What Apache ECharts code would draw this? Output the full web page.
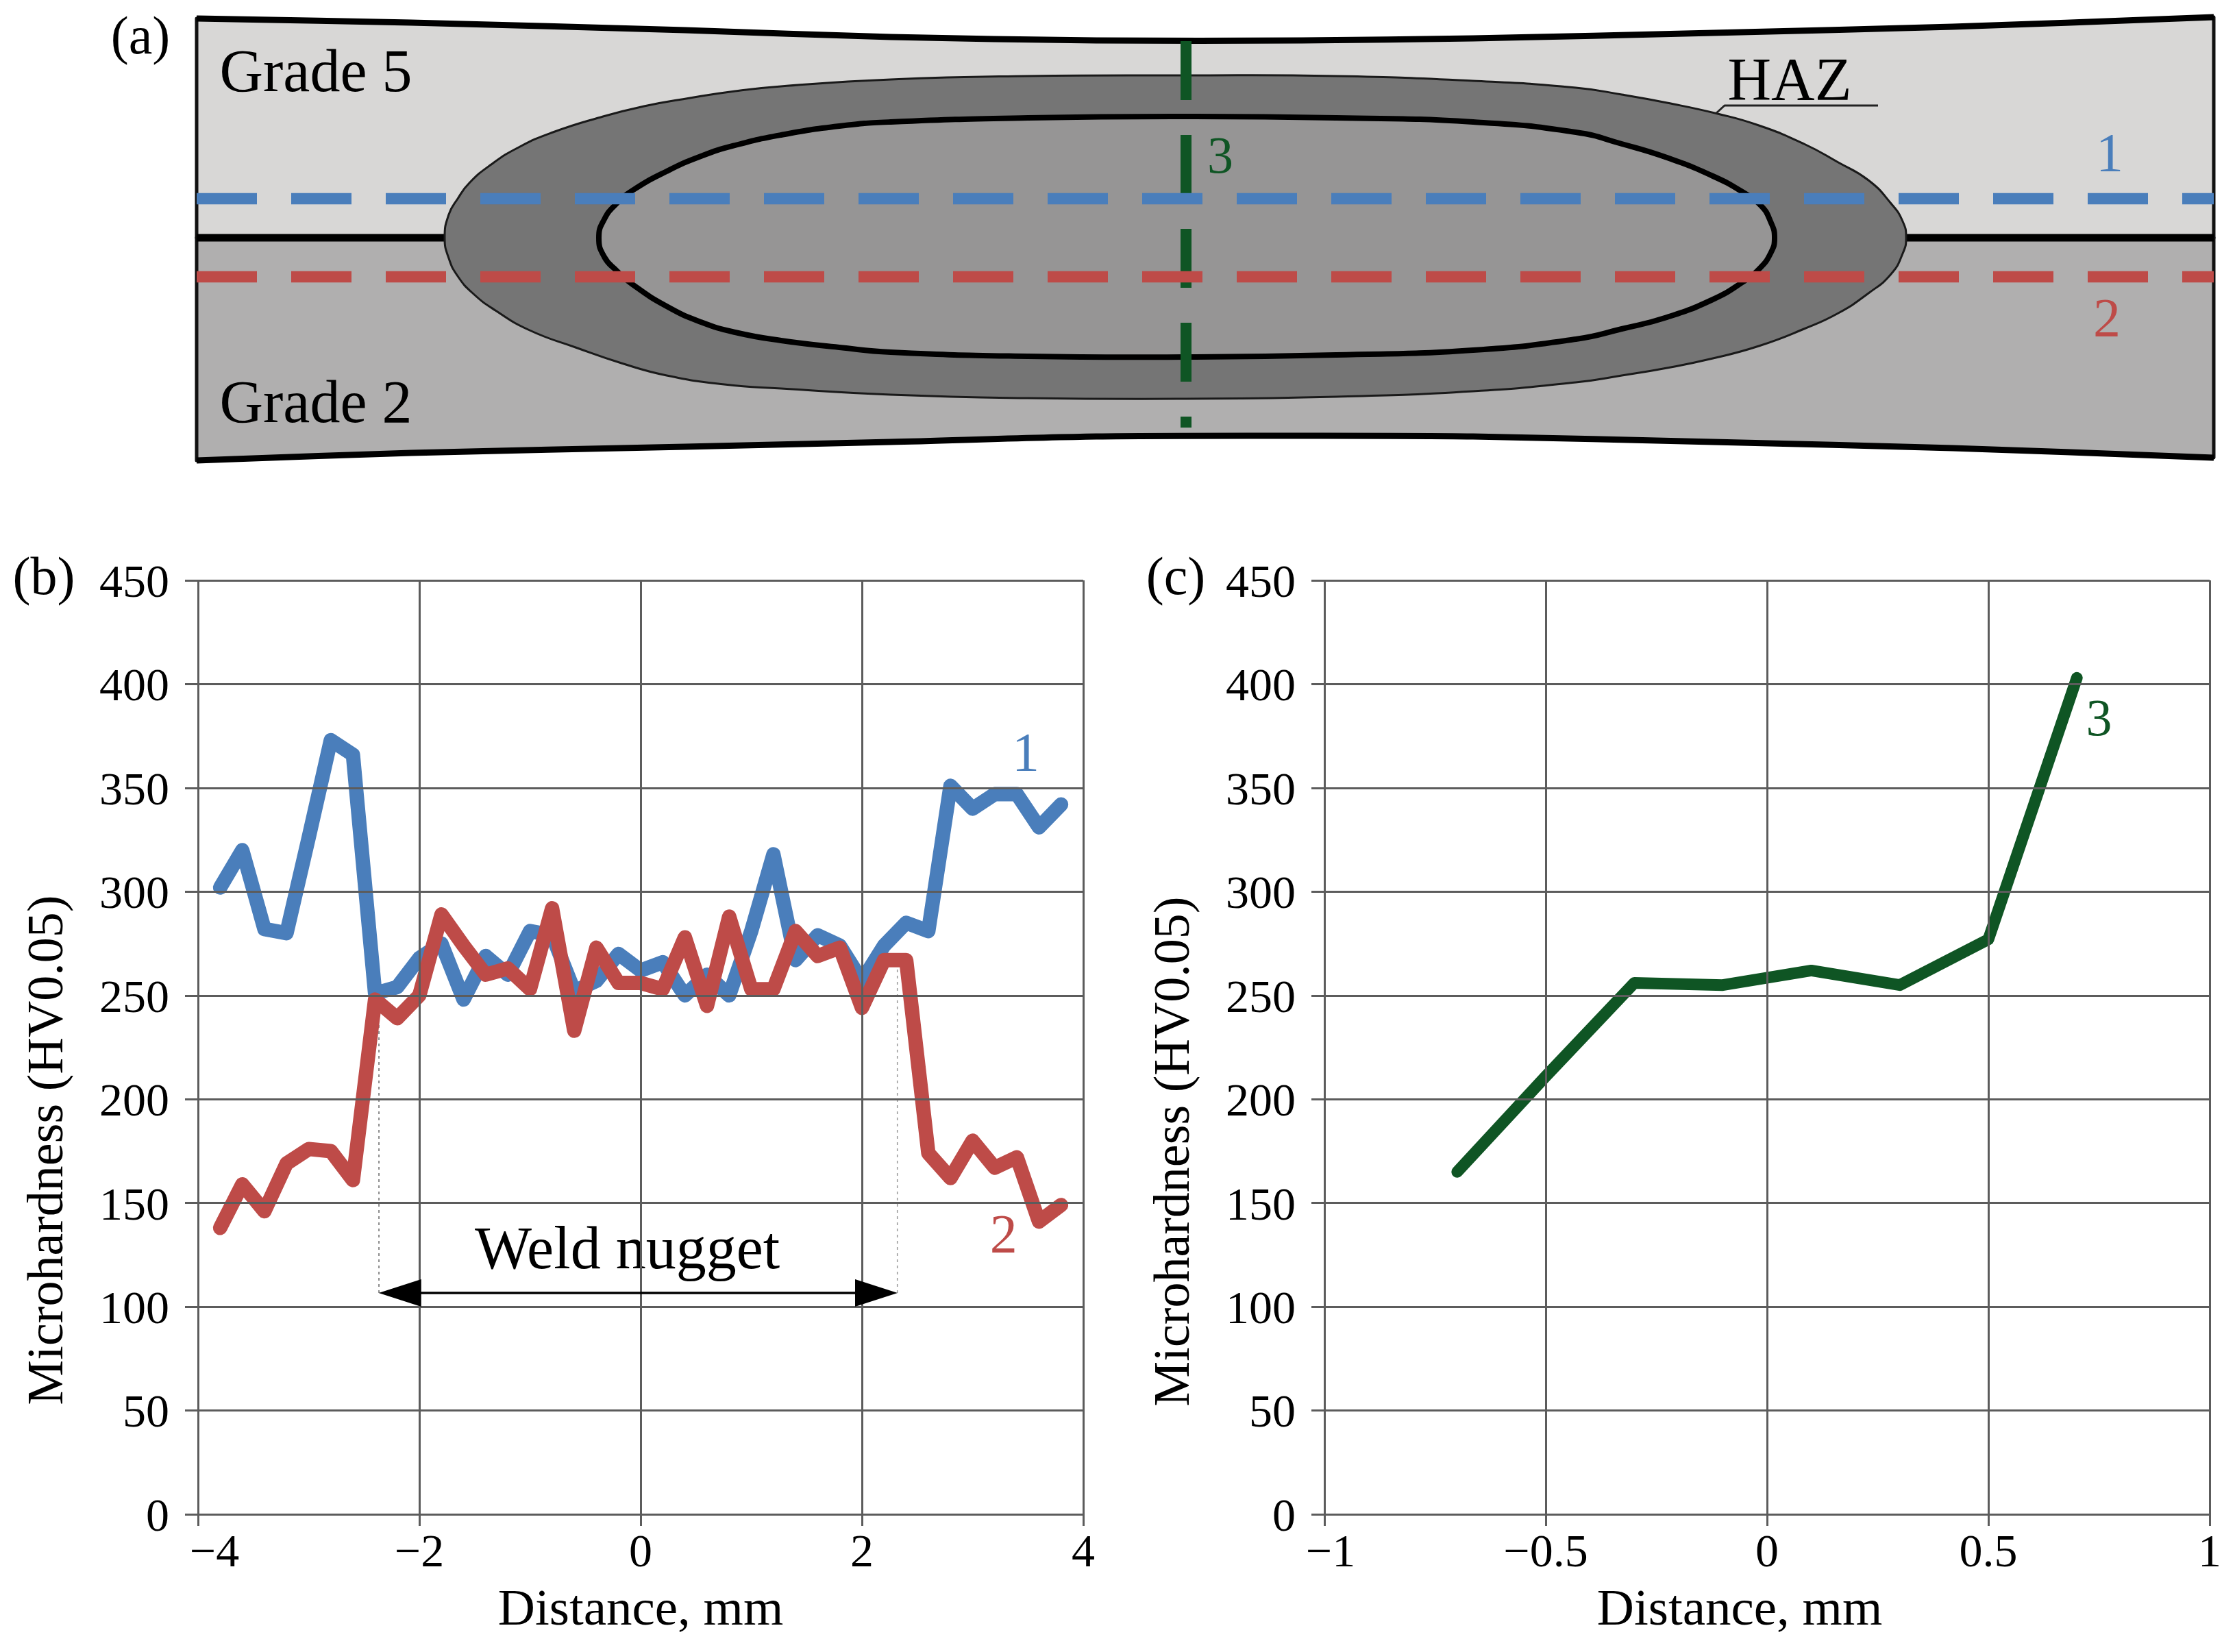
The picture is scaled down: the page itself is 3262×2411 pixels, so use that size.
<!DOCTYPE html>
<html>
<head>
<meta charset="utf-8">
<style>html,body{margin:0;background:#fff}#chart{width:3262px;height:2411px}</style>
<script src="https://cdn.jsdelivr.net/npm/echarts@6/dist/echarts.min.js"></script>
</head>
<body>
<div id="chart"></div>
<script>
const FONT = 'Liberation Serif'
const INK = '#000'
const BLUE = '#4a7ebb'
const RED = '#be4b48'
const GREEN = '#0f5524'
const GRID_COLOR = '#5c5c5c'

// panels (b) and (c)
const yTicks = [0, 50, 100, 150, 200, 250, 300, 350, 400, 450]
const xTicksB = [-4, -2, 0, 2, 4]
const xTicksC = [-1, -0.5, 0, 0.5, 1]
const distB = [-3.8, -3.6, -3.4, -3.2, -3.0, -2.8, -2.6, -2.4, -2.2, -2.0, -1.8, -1.6, -1.4, -1.2, -1.0, -0.8, -0.6, -0.4, -0.2, 0,
  0.2, 0.4, 0.6, 0.8, 1.0, 1.2, 1.4, 1.6, 1.8, 2.0, 2.2, 2.4, 2.6, 2.8, 3.0, 3.2, 3.4, 3.6, 3.8]
const hardness1 = [302, 320, 282, 280, 326, 373, 366, 251, 254, 268, 275, 248, 269, 260, 281, 279, 252, 257, 270, 262,
  266, 250, 260, 250, 281, 318, 267, 279, 274, 257, 274, 285, 281, 351, 340, 347, 347, 331, 342]
const hardness2 = [138, 159, 146, 169, 176, 175, 161, 248, 239, 250, 289, 274, 260, 263, 253, 292, 233, 273, 256, 256,
  253, 278, 245, 288, 253, 253, 281, 269, 273, 244, 267, 267, 174, 162, 180, 167, 172, 141, 149]
const distC = [-0.7, -0.5, -0.3, -0.1, 0.1, 0.3, 0.5, 0.7]
const hardness3 = [165, 211, 256, 255, 262, 255, 277, 403]

// weld nugget annotation, in mm / HV
const nuggetEnds = [-2.365, 2.32]
const arrowBase = [-2.175, 2.13]
const arrowY = 106.6
const nuggetTop = [248, 267]

// schematic (a), outlines in page pixels
const topEdge = [[287, 27], [600, 33], [1000, 44], [1300, 54], [1600, 59], [1900, 59], [2150, 56], [2500, 48], [2850, 39], [3231, 25]]
const bottomEdge = [[287, 672], [600, 661], [1000, 652], [1300, 645], [1600, 637], [1900, 636], [2150, 637], [2500, 645], [2850, 654], [3231, 668]]
const seam = [[287, 347], [3231, 347]]
const hazOutline = [[649, 347], [655, 313], [668, 290], [685, 267], [717, 240], [757, 215], [807, 193], [873, 172], [940, 155], [1007, 143], [1073, 133], [1140, 126],
  [1300, 116], [1500, 111], [1731, 110], [1950, 111], [2150, 118],
  [2300, 128], [2367, 138], [2433, 150], [2507, 166], [2567, 183], [2633, 210], [2683, 237], [2727, 263], [2760, 297], [2777, 323], [2782, 347],
  [2777, 370], [2760, 400], [2727, 428], [2683, 457], [2633, 480], [2567, 505], [2500, 523], [2433, 537], [2367, 548], [2300, 558],
  [2150, 571], [1950, 579], [1731, 582], [1500, 581], [1300, 576],
  [1140, 567], [1057, 561], [973, 548], [907, 530], [840, 507], [773, 482], [723, 453], [690, 428], [668, 403], [655, 377]]
const nuggetOutline = [[874, 347], [882, 320], [900, 297], [923, 278], [973, 250], [1023, 228], [1073, 212], [1140, 197], [1225, 184], [1300, 178],
  [1500, 172], [1731, 170], [1950, 172], [2150, 178],
  [2300, 193], [2367, 210], [2433, 230], [2500, 257], [2543, 280], [2570, 300], [2584, 323], [2590, 347],
  [2584, 370], [2567, 393], [2543, 412], [2500, 437], [2433, 463], [2367, 480], [2300, 495],
  [2150, 511], [1950, 518], [1731, 521], [1500, 520], [1300, 514],
  [1225, 507], [1140, 497], [1073, 485], [1023, 470], [973, 447], [923, 415], [900, 395], [882, 375]]
const hazLeader = [[2505, 165], [2517, 154], [2741, 154]]
const line1Path = [[287, 290], [3231, 290]]
const line2Path = [[287, 404], [3231, 404]]
const line3Path = [[1731, 60], [1731, 624]]

const shapes = [
  { kind: 'polygon', pts: topEdge.concat([[3231, 347], [287, 347]]), fill: '#d8d7d6', stroke: '#111', width: 5 },
  { kind: 'polygon', pts: bottomEdge.concat([[3231, 347], [287, 347]]), fill: '#b0afaf', stroke: '#111', width: 5 },
  { kind: 'polyline', pts: topEdge, stroke: '#000', width: 9, smooth: 0.3 },
  { kind: 'polyline', pts: bottomEdge, stroke: '#000', width: 9, smooth: 0.3 },
  { kind: 'polyline', pts: seam, stroke: '#000', width: 11 },
  { kind: 'polygon', pts: hazOutline, fill: '#757575', stroke: '#1a1a1a', width: 3, smooth: 0.5 },
  { kind: 'polygon', pts: nuggetOutline, fill: '#969595', stroke: '#000', width: 8, smooth: 0.5 },
  { kind: 'polyline', pts: hazLeader, stroke: '#222', width: 3 }
]

const pairs = (xs, ys) => xs.map((x, i) => [x, ys[i]])
const tickText = v => String(v).replace('-', '\u2212')

const renderShape = (params, api) => {
  const s = shapes[params.dataIndex]
  const points = s.pts.map(p => api.coord(p))
  return {
    type: s.kind,
    shape: { points, smooth: s.smooth || 0 },
    style: { fill: s.kind === 'polygon' ? s.fill : 'none', stroke: s.stroke, lineWidth: s.width, lineJoin: 'round' }
  }
}

const textSeries = (axisIndex, items) => ({
  type: 'scatter',
  xAxisIndex: axisIndex,
  yAxisIndex: axisIndex,
  symbolSize: 0,
  silent: true,
  z: 4,
  itemStyle: { opacity: 1 },
  data: items.map(t => ({
    name: t.text,
    value: [t.x, t.y],
    label: { show: true, position: 'inside', formatter: '{b}', fontFamily: FONT, fontSize: t.size, color: t.color }
  }))
})

const hardLine = (axisIndex, data, color, width) => ({
  type: 'line',
  xAxisIndex: axisIndex,
  yAxisIndex: axisIndex,
  data,
  showSymbol: false,
  silent: true,
  z: 2,
  lineStyle: { color, width, cap: 'round', join: 'round' }
})

const dashLine = (data, color, width, dash) => ({
  type: 'line',
  xAxisIndex: 0,
  yAxisIndex: 0,
  data,
  showSymbol: false,
  silent: true,
  z: 3,
  lineStyle: { color, width, type: dash, cap: 'butt' }
})

const guideLine = (x, top, color) => ({
  type: 'line',
  xAxisIndex: 1,
  yAxisIndex: 1,
  data: [[x, arrowY], [x, top]],
  showSymbol: false,
  silent: true,
  z: 1,
  lineStyle: { color, width: 1.5, type: [4, 5] }
})

const arrowHead = (x, rotate) => ({
  type: 'scatter',
  xAxisIndex: 1,
  yAxisIndex: 1,
  data: [[x, arrowY]],
  symbol: 'triangle',
  symbolSize: [40, 62],
  symbolRotate: rotate,
  silent: true,
  z: 6,
  itemStyle: { color: '#000', opacity: 1 }
})

const xAxisFor = (gridIndex, ticks, interval, namePad, minPad) => ({
  gridIndex,
  type: 'value',
  min: ticks[0],
  max: ticks[ticks.length - 1],
  interval,
  z: 5,
  name: 'Distance, mm',
  nameLocation: 'middle',
  nameGap: 104,
  nameTextStyle: { fontFamily: FONT, fontSize: 75, color: INK, padding: [0, namePad, 0, 0] },
  axisLine: { show: false, onZero: false },
  axisTick: { show: true, length: 17, lineStyle: { color: GRID_COLOR, width: 3 } },
  axisLabel: {
    fontFamily: FONT,
    fontSize: 68,
    color: INK,
    margin: 24,
    showMinLabel: true,
    showMaxLabel: true,
    customValues: ticks,
    formatter: v => v === ticks[0] ? '{first|' + tickText(v) + '}' : tickText(v),
    rich: { first: { fontFamily: FONT, fontSize: 68, color: INK, padding: [0, 0, 0, minPad] } }
  },
  splitLine: { show: true, lineStyle: { color: GRID_COLOR, width: 3 } }
})

const yAxisFor = (gridIndex, namePad) => ({
  gridIndex,
  type: 'value',
  min: 0,
  max: 450,
  interval: 50,
  z: 5,
  name: 'Microhardness (HV0.05)',
  nameLocation: 'middle',
  nameGap: 180,
  nameTextStyle: { fontFamily: FONT, fontSize: 74, color: INK, padding: [0, namePad, 0, 0] },
  axisLine: { show: false, onZero: false },
  axisTick: { show: true, length: 19, lineStyle: { color: GRID_COLOR, width: 3 } },
  axisLabel: {
    fontFamily: FONT,
    fontSize: 68,
    color: INK,
    margin: 42,
    customValues: yTicks,
    formatter: '{v|{value}}',
    rich: { v: { fontFamily: FONT, fontSize: 68, color: INK, padding: [12, 0, 0, 0] } }
  },
  splitLine: { show: true, lineStyle: { color: GRID_COLOR, width: 3 } }
})

const panelLabel = (text, x, y) => ({
  type: 'text',
  x,
  y,
  style: { text, fontFamily: FONT, fontSize: 78, fill: INK, textAlign: 'center', textVerticalAlign: 'middle' }
})

const chart = echarts.init(document.getElementById('chart'))
chart.setOption({
  animation: false,
  backgroundColor: '#fff',
  graphic: [panelLabel('(a)', 205, 58), panelLabel('(b)', 64, 847), panelLabel('(c)', 1716, 847)],
  grid: [
    { left: 287, top: 0, width: 2944, height: 700 },
    { left: 289, top: 847, width: 1292, height: 1363 },
    { left: 1933, top: 847, width: 1292, height: 1363 }
  ],
  xAxis: [
    { gridIndex: 0, type: 'value', min: 287, max: 3231, show: false },
    xAxisFor(1, xTicksB, 2, 0, 48),
    xAxisFor(2, xTicksC, 0.5, 80, 18)
  ],
  yAxis: [
    { gridIndex: 0, type: 'value', min: 0, max: 700, inverse: true, show: false },
    yAxisFor(1, 300),
    yAxisFor(2, 304)
  ],
  series: [
    {
      type: 'custom',
      xAxisIndex: 0,
      yAxisIndex: 0,
      silent: true,
      z: 1,
      clip: false,
      renderItem: renderShape,
      data: shapes.map((s, i) => [i, 0])
    },
    dashLine(line3Path, GREEN, 16, [86, 51]),
    dashLine(line1Path, BLUE, 16.5, [88, 50]),
    dashLine(line2Path, RED, 16.5, [88, 50]),
    textSeries(0, [
      { text: 'Grade 5', x: 461, y: 110, size: 88, color: INK },
      { text: 'Grade 2', x: 461, y: 593, size: 88, color: INK },
      { text: 'HAZ', x: 2612, y: 122, size: 88, color: INK },
      { text: '1', x: 3079, y: 229, size: 80, color: BLUE },
      { text: '2', x: 3075, y: 470, size: 80, color: RED },
      { text: '3', x: 1781, y: 232, size: 76, color: GREEN }
    ]),
    guideLine(nuggetEnds[0], nuggetTop[0], '#666'),
    guideLine(nuggetEnds[1], nuggetTop[1], '#999'),
    hardLine(1, pairs(distB, hardness1), BLUE, 21),
    hardLine(1, pairs(distB, hardness2), RED, 21),
    {
      type: 'line',
      xAxisIndex: 1,
      yAxisIndex: 1,
      data: pairs(arrowBase, [arrowY, arrowY]),
      showSymbol: false,
      silent: true,
      z: 6,
      lineStyle: { color: '#000', width: 3.5 }
    },
    arrowHead(arrowBase[0], 90),
    arrowHead(arrowBase[1], -90),
    textSeries(1, [
      { text: 'Weld nugget', x: -0.12, y: 126, size: 88, color: INK },
      { text: '1', x: 3.48, y: 365, size: 80, color: BLUE },
      { text: '2', x: 3.28, y: 133, size: 80, color: RED }
    ]),
    hardLine(2, pairs(distC, hardness3), GREEN, 17),
    textSeries(2, [{ text: '3', x: 0.75, y: 382, size: 76, color: GREEN }])
  ]
})
window.addEventListener('resize', () => chart.resize())
</script>
</body>
</html>
